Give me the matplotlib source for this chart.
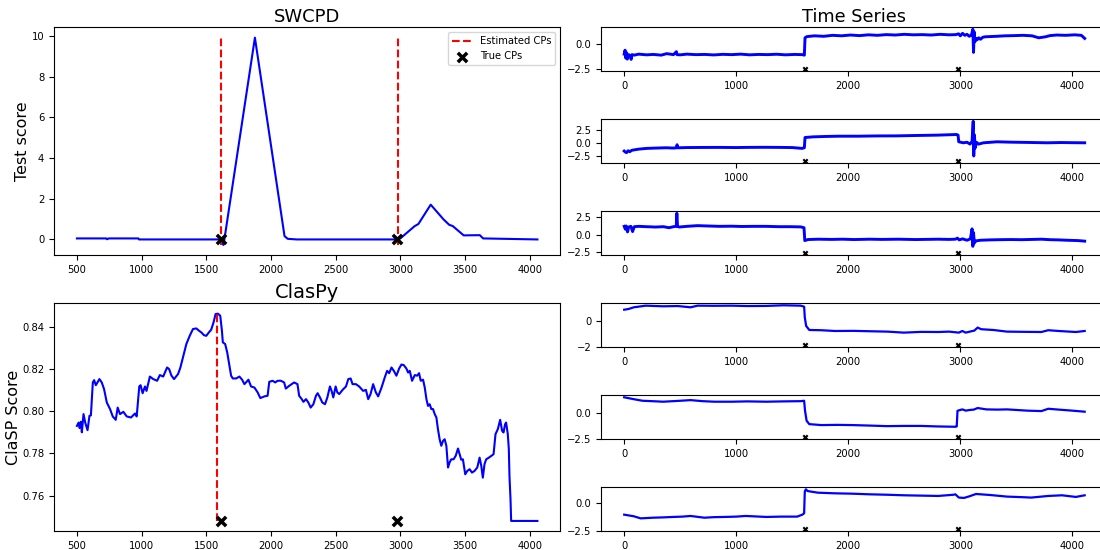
import matplotlib
matplotlib.use("Agg")
import matplotlib.pyplot as plt
import numpy as np

# change points
true_cps = [1613, 2978]
swcpd_cps = [1612, 2980]
claspy_cps = [1586]

# SWCPD test score (x, score)
swcpd = [(500, 0.05), (728, 0.05), (734, 0.01), (745, 0.05), (975, 0.05), (980, 0.0),
         (1600, 0.0), (1615, -0.05), (1632, -0.27), (1640, 0.0), (1876, 9.92),
         (2105, 0.16), (2130, 0.03), (2200, 0.0), (2975, 0.0), (3000, 0.05),
         (3110, 0.65), (3140, 0.76), (3235, 1.71), (3335, 0.98), (3378, 0.72),
         (3405, 0.66), (3490, 0.2), (3615, 0.21), (3640, 0.05), (4060, 0.0)]

# ClaSP score (x, score)
claspy = [(500, 0.793), (513, 0.7946), (520, 0.792), (531, 0.795), (538, 0.790),
          (551, 0.7986), (564, 0.7946), (582, 0.791), (597, 0.7978), (608, 0.798),
          (623, 0.8136), (633, 0.8147), (646, 0.8123), (659, 0.8136), (674, 0.8152),
          (692, 0.8136), (710, 0.8104), (731, 0.8041), (756, 0.801), (777, 0.7975),
          (800, 0.7959), (815, 0.8017), (833, 0.7986), (859, 0.7997), (885, 0.7975),
          (918, 0.797), (949, 0.7989), (962, 0.7975), (982, 0.8117), (992, 0.8123),
          (1008, 0.8085), (1026, 0.8117), (1038, 0.8096), (1064, 0.8164), (1090, 0.8152),
          (1120, 0.8144), (1141, 0.8171), (1167, 0.8164), (1197, 0.8207), (1213, 0.8199),
          (1231, 0.8168), (1251, 0.8152), (1282, 0.8176), (1300, 0.8207), (1320, 0.8255),
          (1346, 0.8318), (1372, 0.8357), (1397, 0.8389), (1423, 0.8392), (1444, 0.8381),
          (1462, 0.8373), (1482, 0.836), (1500, 0.8357), (1520, 0.8373), (1538, 0.8386),
          (1556, 0.842), (1572, 0.846), (1590, 0.8462), (1608, 0.8452), (1621, 0.8381),
          (1628, 0.8326), (1646, 0.8318), (1662, 0.8278), (1679, 0.8215), (1692, 0.8168),
          (1705, 0.8155), (1731, 0.8155), (1756, 0.8164), (1777, 0.8149), (1795, 0.8128),
          (1826, 0.8149), (1846, 0.8117), (1872, 0.8112), (1897, 0.8089), (1918, 0.8062),
          (1949, 0.807), (1974, 0.8073), (1987, 0.8139), (2013, 0.8144), (2033, 0.8136),
          (2051, 0.8144), (2077, 0.8144), (2102, 0.8136), (2115, 0.8107), (2141, 0.812),
          (2179, 0.8136), (2205, 0.8128), (2218, 0.8073), (2238, 0.8057), (2251, 0.8044),
          (2271, 0.8057), (2289, 0.8041), (2307, 0.8017), (2328, 0.8033), (2348, 0.8073),
          (2361, 0.8085), (2379, 0.8065), (2397, 0.8041), (2418, 0.8033), (2436, 0.8065),
          (2456, 0.8117), (2469, 0.8096), (2482, 0.8065), (2500, 0.8117), (2513, 0.8089),
          (2528, 0.8081), (2554, 0.8101), (2580, 0.8117), (2598, 0.8152), (2616, 0.8155),
          (2631, 0.8128), (2657, 0.8128), (2682, 0.8117), (2713, 0.8096), (2734, 0.8101),
          (2752, 0.8057), (2770, 0.8081), (2790, 0.8128), (2811, 0.8089), (2829, 0.807),
          (2855, 0.8112), (2880, 0.816), (2898, 0.8191), (2914, 0.818), (2932, 0.8207),
          (2950, 0.8191), (2970, 0.8168), (2991, 0.8202), (3009, 0.8221), (3027, 0.8218),
          (3047, 0.8202), (3060, 0.8183), (3073, 0.8191), (3091, 0.8144), (3112, 0.8171),
          (3130, 0.8168), (3145, 0.818), (3158, 0.8144), (3176, 0.8149), (3189, 0.8112),
          (3202, 0.8057), (3214, 0.8025), (3227, 0.8033), (3240, 0.801), (3253, 0.801),
          (3266, 0.7986), (3279, 0.797), (3291, 0.7915), (3304, 0.7867), (3317, 0.7836),
          (3330, 0.7859), (3343, 0.7867), (3356, 0.7836), (3369, 0.7733), (3381, 0.7757),
          (3394, 0.7772), (3412, 0.7772), (3428, 0.7788), (3446, 0.7823), (3459, 0.7796),
          (3471, 0.777), (3484, 0.7772), (3502, 0.7701), (3518, 0.7717), (3536, 0.7725),
          (3554, 0.7709), (3574, 0.7717), (3595, 0.7733), (3613, 0.778), (3626, 0.7741),
          (3638, 0.7685), (3651, 0.7749), (3664, 0.7772), (3685, 0.778), (3703, 0.7788),
          (3721, 0.7796), (3736, 0.7891), (3754, 0.7915), (3772, 0.7959), (3787, 0.7907),
          (3798, 0.7899), (3810, 0.7938), (3818, 0.7946), (3831, 0.7891), (3839, 0.782),
          (3844, 0.7693), (3852, 0.7583), (3857, 0.748), (4060, 0.748)]

# the six channels of the time series (x, value)
ts1 = [(0, -1.05), (8, -0.65), (14, -1.45), (20, -0.9), (28, -1.55), (40, -1.1),
       (55, -1.2), (62, -1.58), (70, -1.1), (90, -1.15), (130, -1.05), (200, -1.12),
       (260, -1.08), (330, -1.15), (380, -1.0), (440, -1.1), (466, -0.8), (472, -1.1),
       (500, -1.12), (560, -1.05), (640, -1.1), (720, -1.08), (800, -1.13), (880, -1.07),
       (960, -1.1), (1040, -1.05), (1120, -1.12), (1200, -1.08), (1280, -1.1),
       (1360, -1.06), (1440, -1.12), (1520, -1.08), (1590, -1.1), (1608, -1.15),
       (1614, 0.6), (1630, 0.72), (1700, 0.8), (1780, 0.75), (1860, 0.85), (1940, 0.8),
       (2020, 0.88), (2100, 0.82), (2180, 0.9), (2260, 0.85), (2340, 0.92), (2420, 0.88),
       (2500, 0.95), (2580, 0.9), (2660, 0.92), (2740, 0.88), (2820, 0.95), (2900, 0.9),
       (2960, 0.92), (2985, 1.0), (3000, 0.8), (3020, 1.05), (3040, 0.85), (3060, 0.95),
       (3080, 0.75), (3100, 0.9), (3112, 1.46), (3118, -0.87), (3124, 1.2), (3130, 0.2),
       (3140, 0.55), (3150, 0.4), (3165, 0.6), (3180, 0.45), (3200, 0.65), (3220, 0.7),
       (3260, 0.72), (3320, 0.75), (3400, 0.8), (3480, 0.82), (3560, 0.85), (3640, 0.8),
       (3700, 0.6), (3760, 0.7), (3800, 0.82), (3860, 0.88), (3940, 0.85), (4020, 0.9),
       (4080, 0.85), (4110, 0.54)]

ts2 = [(0, -1.56), (10, -1.75), (21, -1.87), (35, -1.5), (50, -1.69), (65, -1.45),
       (80, -1.37), (130, -1.2), (199, -1.06), (280, -1.0), (377, -0.94), (440, -1.0),
       (466, -0.95), (472, -0.37), (478, -0.95), (560, -0.9), (700, -0.88), (850, -0.87),
       (1000, -0.9), (1089, -0.87), (1250, -0.85), (1386, -0.87), (1500, -0.9),
       (1587, -1.06), (1608, -0.94), (1614, 1.0), (1682, 1.12), (1800, 1.2), (1920, 1.25),
       (2100, 1.25), (2250, 1.3), (2428, 1.31), (2600, 1.38), (2800, 1.45), (2967, 1.57),
       (2980, 1.45), (2986, 0.19), (3027, 0.0), (3060, 0.1), (3087, -0.25), (3105, 0.3),
       (3115, 4.07), (3120, -2.5), (3126, 1.5), (3132, -1.0), (3145, 0.1), (3162, -0.25),
       (3207, 0.0), (3327, 0.19), (3450, 0.12), (3626, 0.06), (3775, 0.0), (3900, 0.05),
       (4000, 0.02), (4110, 0.0)]

ts3 = [(0, 1.2), (10, 0.8), (18, 1.25), (30, 0.4), (40, 1.1), (60, 1.2), (75, 0.45),
       (90, 1.15), (130, 1.2), (200, 1.15), (280, 1.1), (350, 1.15), (400, 1.0),
       (440, 1.15), (465, 1.2), (470, 3.08), (476, 1.2), (490, 1.1), (560, 1.2),
       (654, 1.3), (750, 1.25), (850, 1.2), (961, 1.22), (1050, 1.18), (1150, 1.2),
       (1268, 1.2), (1380, 1.15), (1480, 1.15), (1575, 1.12), (1605, 1.0), (1612, -0.85),
       (1640, -0.7), (1728, -0.65), (1850, -0.68), (1950, -0.65), (2050, -0.7),
       (2189, -0.65), (2300, -0.68), (2450, -0.65), (2600, -0.7), (2803, -0.65),
       (2900, -0.68), (2956, -0.65), (2975, -0.5), (2990, -0.75), (3020, -0.6),
       (3060, -0.8), (3090, -0.6), (3105, 0.84), (3112, -1.68), (3118, 0.3),
       (3125, -1.2), (3140, -0.89), (3180, -0.8), (3263, -0.75), (3350, -0.72),
       (3450, -0.7), (3550, -0.72), (3650, -0.68), (3724, -0.65), (3800, -0.72),
       (3878, -0.75), (3950, -0.8), (4050, -0.85), (4110, -0.93)]

ts4 = [(0, 0.93), (40, 0.99), (86, 1.12), (193, 1.25), (347, 1.2), (480, 1.22),
       (593, 1.12), (654, 1.25), (800, 1.24), (961, 1.25), (1100, 1.22), (1268, 1.23),
       (1421, 1.28), (1575, 1.25), (1606, 1.17), (1612, 0.32), (1624, -0.35),
       (1652, -0.67), (1759, -0.69), (1882, -0.75), (2050, -0.74), (2189, -0.77),
       (2350, -0.8), (2496, -0.88), (2650, -0.82), (2803, -0.83), (2900, -0.8),
       (2987, -0.88), (3018, -0.75), (3048, -0.88), (3094, -0.78), (3125, -0.72),
       (3155, -0.48), (3186, -0.61), (3294, -0.67), (3417, -0.8), (3600, -0.82),
       (3724, -0.83), (3785, -0.69), (3878, -0.75), (4031, -0.83), (4110, -0.75)]

ts5 = [(0, 1.47), (80, 1.3), (163, 1.14), (250, 1.1), (347, 1.05), (470, 1.12),
       (593, 1.2), (700, 1.1), (807, 1.05), (961, 1.05), (1100, 1.08), (1268, 1.05),
       (1420, 1.08), (1575, 1.1), (1606, 1.14), (1614, 0.2), (1628, -0.75),
       (1652, -1.08), (1759, -1.17), (1900, -1.15), (2036, -1.17), (2200, -1.22),
       (2343, -1.27), (2500, -1.25), (2649, -1.25), (2800, -1.3), (2956, -1.33),
       (2968, -1.3), (2975, 0.19), (3018, 0.32), (3050, 0.2), (3079, 0.26), (3120, 0.3),
       (3155, 0.45), (3232, 0.32), (3330, 0.3), (3417, 0.32), (3600, 0.2), (3724, 0.16),
       (3785, 0.38), (3878, 0.3), (4000, 0.2), (4110, 0.1)]

ts6 = [(0, -1.02), (86, -1.17), (147, -1.36), (255, -1.3), (350, -1.27), (439, -1.23),
       (520, -1.2), (593, -1.14), (715, -1.3), (800, -1.25), (900, -1.23), (1000, -1.2),
       (1084, -1.14), (1268, -1.23), (1400, -1.2), (1544, -1.2), (1590, -1.02),
       (1606, -0.9), (1612, 1.1), (1622, 1.3), (1636, 1.14), (1728, 0.99), (1882, 0.93),
       (2030, 0.9), (2189, 0.84), (2350, 0.8), (2496, 0.75), (2650, 0.72), (2803, 0.69),
       (2940, 0.8), (2956, 0.84), (2987, 0.54), (3033, 0.51), (3079, 0.65), (3140, 0.87),
       (3263, 0.78), (3417, 0.63), (3550, 0.58), (3632, 0.54), (3785, 0.69), (3908, 0.75),
       (4031, 0.6), (4110, 0.75)]

channels = [ts1, ts2, ts3, ts4, ts5, ts6]
# first three channels are raw and noisy, so drawn a bit thicker
widths = [2.1, 2.1, 2.1, 1.6, 1.6, 1.6]

plt.rcParams['font.size'] = 7.2

fig = plt.figure(figsize=(11, 5.5), dpi=100)
gs = fig.add_gridspec(6, 2, left=0.049, right=1.007, top=0.9504, bottom=0.034,
                      hspace=1.09, wspace=0.0804)

# SWCPD panel
ax = fig.add_subplot(gs[0:3, 0])
sx, sy = np.array(swcpd).T
ax.plot(sx, sy, color='b', lw=1.5)
ax.vlines(swcpd_cps, ymin=sy.min(), ymax=sy.max(), colors='r', linestyles='--',
          lw=1.5, label='Estimated CPs')
ax.scatter(true_cps, [0] * len(true_cps), marker='x', c='k', s=45, linewidths=2.5,
           label='True CPs', zorder=3)
ax.set_title('SWCPD', fontsize=13, pad=3.5)
ax.set_ylabel('Test score', fontsize=11.5, labelpad=1)
ax.legend(loc='upper right', fontsize=7.2)

# ClasPy panel
ax = fig.add_subplot(gs[3:6, 0])
cx, cy = np.array(claspy).T
ax.plot(cx, cy, color='b', lw=1.5)
ax.vlines(claspy_cps, ymin=cy.min(), ymax=cy.max(), colors='r', linestyles='--', lw=1.5)
ax.scatter(true_cps, [cy.min()] * len(true_cps), marker='x', c='k', s=45,
           linewidths=2.5, zorder=3)
ax.set_title('ClasPy', fontsize=14, pad=3.5)
ax.set_ylabel('ClaSP Score', fontsize=11.5, labelpad=1)

# time series channels
for i, ch in enumerate(channels):
    ax = fig.add_subplot(gs[i, 1])
    tx, ty = np.array(ch).T
    ax.plot(tx, ty, color='b', lw=widths[i])
    ax.scatter(true_cps, [ty.min() - 1] * len(true_cps), marker='x', c='k', s=10,
               linewidths=1.5, zorder=3)
    if i == 0:
        ax.set_title('Time Series', fontsize=12.8, pad=3.5)

fig.savefig('out.png', dpi=100)
